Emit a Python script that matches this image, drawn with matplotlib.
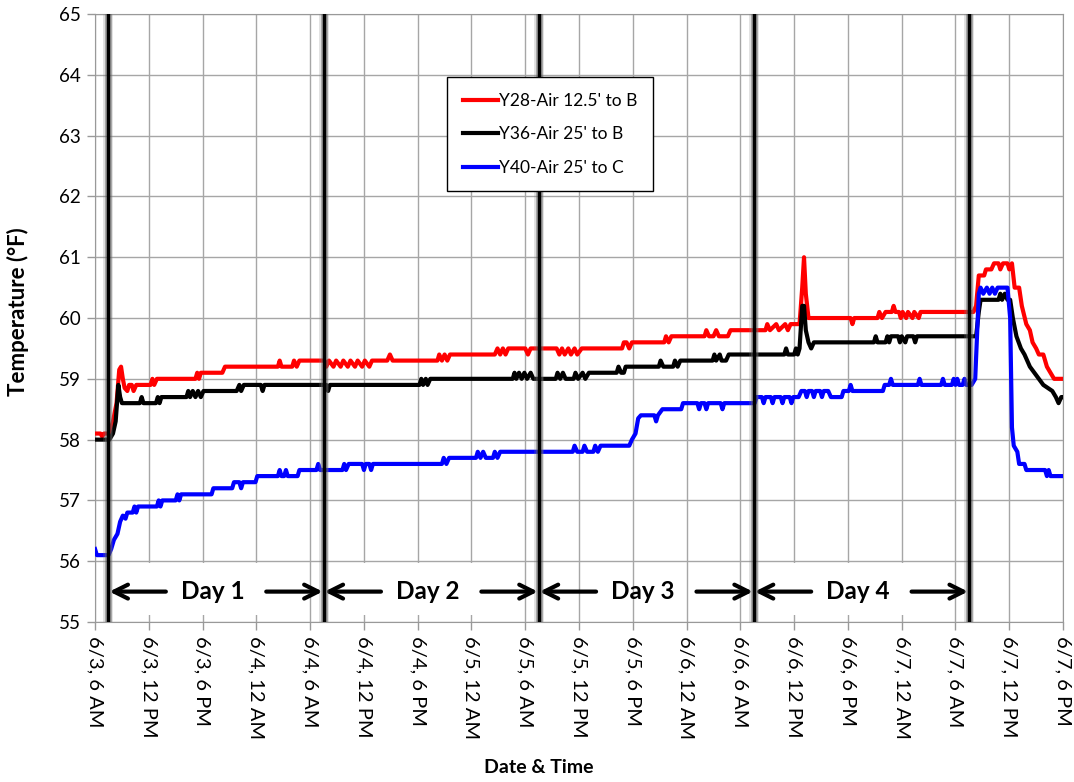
import numpy as np
import matplotlib.pyplot as plt
from matplotlib.patches import Rectangle

plt.rcParams['font.family'] = ['Lato', 'DejaVu Sans']

# hours after 6/3 6 AM
red_t = [0, 0.6, 0.8, 1.0, 1.6, 2.0, 2.4, 2.7, 2.9, 3.1, 3.3, 3.6, 3.8, 4.1, 4.3, 4.6, 6.2, 6.4, 6.6, 6.9,
         11.2, 11.4, 11.6, 11.8, 14.2, 14.5, 20.4, 20.6, 20.8, 22.0, 22.2, 22.5, 22.8, 25.6, 25.8, 26.1,
         26.6, 26.9, 27.4, 27.7, 28.2, 28.5, 29.0, 29.3, 29.8, 30.1, 30.6, 30.9, 32.6, 32.9, 33.2, 38.2,
         38.4, 38.7, 39.0, 39.3, 39.6, 44.6, 44.9, 45.2, 45.5, 45.8, 46.1, 48.0, 48.3, 48.6, 51.5, 51.8,
         52.1, 52.4, 52.8, 53.1, 53.5, 53.8, 54.3, 58.8, 59.0, 59.3, 59.6, 59.9, 63.5, 63.7, 64.0, 64.3,
         68.0, 68.2, 68.5, 69.0, 69.3, 69.6, 70.6, 70.9, 74.8, 75.0, 75.3, 76.0, 76.3, 77.0, 77.3, 77.6,
         78.6, 78.9, 79.1, 79.3, 79.6, 84.3, 84.5, 84.7, 87.3, 87.5, 87.8, 88.2, 88.9, 89.1, 89.3, 89.7,
         89.9, 90.1, 90.5, 90.7, 91.2, 91.4, 91.9, 92.1, 98.0, 98.3, 98.6, 99.2, 99.4, 100.0, 100.3,
         100.8, 101.0, 101.3, 101.8, 102.0, 102.3, 102.6, 103.1, 103.4, 103.9, 104.3, 104.6, 105.0,
         105.3, 105.8, 106.2, 106.6, 107.0, 108.0]
red_v = [58.1, 58.1, 58.05, 58.1, 58.1, 58.3, 58.6, 59.15, 59.2, 59.0, 58.85, 58.8, 58.9, 58.9, 58.8, 58.9,
         58.9, 59.0, 58.9, 59.0, 59.0, 59.1, 59.0, 59.1, 59.1, 59.2, 59.2, 59.3, 59.2, 59.2, 59.3, 59.2,
         59.3, 59.3, 59.2, 59.3, 59.2, 59.3, 59.2, 59.3, 59.2, 59.3, 59.2, 59.3, 59.2, 59.3, 59.2, 59.3,
         59.3, 59.4, 59.3, 59.3, 59.4, 59.3, 59.4, 59.3, 59.4, 59.4, 59.5, 59.4, 59.5, 59.4, 59.5, 59.5,
         59.4, 59.5, 59.5, 59.4, 59.5, 59.4, 59.5, 59.4, 59.5, 59.4, 59.5, 59.5, 59.6, 59.6, 59.5, 59.6,
         59.6, 59.7, 59.6, 59.7, 59.7, 59.8, 59.7, 59.7, 59.8, 59.7, 59.7, 59.8, 59.8, 59.9, 59.8, 59.9,
         59.8, 59.9, 59.8, 59.9, 59.9, 60.5, 61.0, 60.4, 60.0, 60.0, 59.9, 60.0, 60.0, 60.1, 60.0, 60.1,
         60.1, 60.2, 60.1, 60.1, 60.0, 60.1, 60.0, 60.1, 60.0, 60.1, 60.0, 60.1, 60.1, 60.2, 60.7, 60.7,
         60.8, 60.8, 60.9, 60.9, 60.8, 60.9, 60.9, 60.8, 60.9, 60.5, 60.5, 60.2, 59.9, 59.8, 59.6, 59.5,
         59.4, 59.4, 59.2, 59.1, 59.0, 59.0]

black_t = [0, 1.6, 2.0, 2.3, 2.6, 2.8, 3.0, 5.0, 5.2, 5.4, 6.8, 7.0, 7.2, 7.4, 10.2, 10.4, 10.6, 10.9, 11.2,
           11.5, 11.8, 12.1, 15.8, 16.1, 16.3, 16.6, 18.5, 18.7, 18.9, 25.8, 26.0, 26.2, 36.2, 36.4, 36.6,
           36.9, 37.1, 37.4, 46.6, 46.8, 47.0, 47.3, 47.6, 47.9, 48.2, 48.6, 48.9, 51.4, 51.6, 51.9, 52.2,
           52.5, 53.4, 53.6, 53.9, 54.4, 54.7, 55.1, 58.2, 58.4, 58.7, 59.0, 59.2, 62.9, 63.1, 63.4, 64.5,
           64.7, 65.0, 65.3, 68.9, 69.1, 69.3, 69.7, 69.9, 70.4, 70.7, 76.9, 77.1, 77.3, 78.0, 78.2, 78.4,
           78.6, 78.9, 79.1, 79.3, 79.6, 79.9, 80.2, 86.9, 87.1, 87.3, 88.2, 88.4, 88.6, 88.8, 89.6, 89.8,
           90.0, 90.4, 90.6, 91.3, 91.5, 91.7, 98.3, 98.6, 98.8, 100.8, 101.0, 101.2, 101.5, 101.8, 102.1,
           102.4, 102.8, 103.3, 103.7, 104.3, 104.8, 105.3, 105.8, 106.3, 106.8, 107.2, 107.5, 107.8, 108.0]
black_v = [58.0, 58.0, 58.1, 58.3, 58.9, 58.7, 58.6, 58.6, 58.7, 58.6, 58.6, 58.7, 58.6, 58.7, 58.7, 58.8,
           58.7, 58.8, 58.7, 58.8, 58.7, 58.8, 58.8, 58.9, 58.8, 58.9, 58.9, 58.8, 58.9, 58.9, 58.8, 58.9,
           58.9, 59.0, 58.9, 59.0, 58.9, 59.0, 59.0, 59.1, 59.0, 59.1, 59.0, 59.1, 59.0, 59.1, 59.0, 59.0,
           59.1, 59.0, 59.1, 59.0, 59.0, 59.1, 59.0, 59.1, 59.0, 59.1, 59.1, 59.2, 59.1, 59.1, 59.2, 59.2,
           59.3, 59.2, 59.2, 59.3, 59.2, 59.3, 59.3, 59.4, 59.3, 59.4, 59.3, 59.3, 59.4, 59.4, 59.5, 59.4,
           59.4, 59.5, 59.4, 59.5, 60.2, 60.2, 59.8, 59.6, 59.5, 59.6, 59.6, 59.7, 59.6, 59.6, 59.7, 59.6,
           59.7, 59.7, 59.6, 59.7, 59.6, 59.7, 59.7, 59.6, 59.7, 59.7, 60.1, 60.3, 60.3, 60.4, 60.3, 60.4,
           60.3, 60.3, 60.0, 59.7, 59.5, 59.4, 59.2, 59.1, 59.0, 58.9, 58.85, 58.8, 58.7, 58.6, 58.7, 58.7]

blue_t = [0, 0.2, 1.5, 1.8, 2.1, 2.5, 2.8, 3.1, 3.4, 3.6, 4.2, 4.4, 4.6, 4.8, 6.9, 7.1, 7.3, 7.5, 9.0, 9.2,
          9.4, 9.6, 13.0, 13.2, 15.3, 15.5, 16.1, 16.3, 16.5, 17.9, 18.1, 20.4, 20.6, 20.8, 21.1, 21.3, 21.5,
          22.6, 22.8, 24.7, 24.9, 25.1, 27.6, 27.8, 28.0, 28.3, 29.8, 30.0, 30.2, 30.6, 30.8, 31.0, 38.7,
          38.9, 39.2, 39.5, 42.5, 42.7, 43.0, 43.3, 43.6, 44.4, 44.6, 44.9, 45.2, 53.3, 53.5, 53.8, 54.4,
          54.6, 54.9, 55.6, 55.8, 56.1, 56.4, 59.6, 59.9, 60.3, 60.6, 60.9, 62.4, 62.6, 62.8, 63.3, 65.4,
          65.6, 67.2, 67.4, 67.6, 68.0, 68.2, 68.4, 69.8, 70.0, 70.2, 73.6, 73.8, 74.4, 74.6, 74.8, 75.4,
          75.6, 75.8, 76.5, 76.7, 76.9, 77.5, 77.7, 77.9, 78.5, 78.8, 79.2, 79.4, 79.6, 80.0, 80.2, 80.4,
          80.9, 81.1, 81.3, 81.8, 82.1, 83.3, 83.5, 84.1, 84.3, 84.5, 87.9, 88.1, 88.6, 88.8, 89.0, 91.8,
          92.0, 92.2, 94.4, 94.6, 94.8, 95.6, 95.8, 96.0, 96.2, 96.4, 96.8, 97.0, 97.2, 97.8, 98.2, 98.6,
          98.8, 99.1, 99.5, 99.8, 100.1, 100.4, 100.7, 101.8, 102.1, 102.3, 102.5, 102.9, 103.1, 103.7,
          103.9, 106.0, 106.2, 106.4, 106.6, 108.0]
blue_v = [56.2, 56.1, 56.1, 56.2, 56.35, 56.45, 56.65, 56.75, 56.7, 56.8, 56.8, 56.9, 56.8, 56.9, 56.9, 57.0,
          56.9, 57.0, 57.0, 57.1, 57.0, 57.1, 57.1, 57.2, 57.2, 57.3, 57.3, 57.2, 57.3, 57.3, 57.4, 57.4,
          57.5, 57.4, 57.4, 57.5, 57.4, 57.4, 57.5, 57.5, 57.6, 57.5, 57.5, 57.6, 57.5, 57.6, 57.6, 57.5,
          57.6, 57.6, 57.5, 57.6, 57.6, 57.7, 57.6, 57.7, 57.7, 57.8, 57.7, 57.8, 57.7, 57.7, 57.8, 57.7,
          57.8, 57.8, 57.9, 57.8, 57.8, 57.9, 57.8, 57.8, 57.9, 57.8, 57.9, 57.9, 58.0, 58.1, 58.35, 58.4,
          58.4, 58.3, 58.4, 58.5, 58.5, 58.6, 58.6, 58.5, 58.6, 58.6, 58.5, 58.6, 58.6, 58.5, 58.6, 58.6,
          58.7, 58.7, 58.6, 58.7, 58.7, 58.6, 58.7, 58.7, 58.6, 58.7, 58.7, 58.6, 58.7, 58.7, 58.8, 58.8,
          58.7, 58.8, 58.8, 58.7, 58.8, 58.8, 58.7, 58.8, 58.8, 58.7, 58.7, 58.8, 58.8, 58.9, 58.8, 58.8,
          58.9, 58.9, 59.0, 58.9, 58.9, 59.0, 58.9, 58.9, 59.0, 58.9, 58.9, 59.0, 58.9, 59.0, 58.9, 58.9,
          59.0, 58.9, 58.9, 59.0, 60.4, 60.5, 60.4, 60.5, 60.4, 60.5, 60.4, 60.5, 60.5, 60.0, 58.2, 57.9,
          57.8, 57.6, 57.6, 57.5, 57.5, 57.4, 57.5, 57.4, 57.4]

series = [("Y28-Air 12.5' to B", red_t, red_v, '#ff0000'),
          ("Y36-Air 25' to B", black_t, black_v, '#000000'),
          ("Y40-Air 25' to C", blue_t, blue_v, '#0000ff')]

tick_hours = [0, 6, 12, 18, 24, 30, 36, 42, 48, 54, 60, 66, 72, 78, 84, 90, 96, 102, 108]
tick_labels = ['6/3, 6 AM', '6/3, 12 PM', '6/3, 6 PM', '6/4, 12 AM', '6/4, 6 AM', '6/4, 12 PM',
               '6/4, 6 PM', '6/5, 12 AM', '6/5, 6 AM', '6/5, 12 PM', '6/5, 6 PM', '6/6, 12 AM',
               '6/6, 6 AM', '6/6, 12 PM', '6/6, 6 PM', '6/7, 12 AM', '6/7, 6 AM', '6/7, 12 PM', '6/7, 6 PM']

day_marks = [1.5, 25.5, 49.5, 73.5, 97.5]
day_names = ['Day 1', 'Day 2', 'Day 3', 'Day 4']
day_box = [True, True, False, True]

fig = plt.figure(figsize=(10.74, 7.82), dpi=100)
ax = fig.add_axes([0.0885, 0.2046, 0.9013, 0.7774])

for name, t, v, c in series:
    ax.plot(t, v, color=c, lw=3, label=name, zorder=3, solid_joinstyle='round')

ax.set_xlim(0, 108)
ax.set_ylim(55, 65)
ax.set_xticks(tick_hours)
ax.set_xticklabels(tick_labels, rotation=-90, va='top', ha='center', fontsize=14.5)
ax.set_yticks(range(55, 66))
ax.tick_params(axis='y', labelsize=13.5)
ax.tick_params(direction='out', length=6, color='#999999', width=1, pad=4)
ax.grid(True, color='#a6a6a6', lw=1, zorder=0)
ax.set_axisbelow(True)
for s in ax.spines.values():
    s.set_color('#999999')

# day spans with arrows
for i, name in enumerate(day_names):
    a, b = day_marks[i], day_marks[i + 1]
    mid = (a + b) / 2
    if day_box[i]:
        ax.add_patch(Rectangle((a + 0.3, 55.12), b - a - 2.2, 0.85, facecolor='white',
                               edgecolor='none', zorder=1))
    ax.annotate('', xy=(a + 0.1, 55.5), xytext=(mid - 5.6, 55.5),
                arrowprops=dict(arrowstyle='->', lw=3, color='black', mutation_scale=25,
                                shrinkA=0, shrinkB=0), zorder=5)
    ax.annotate('', xy=(b - 0.1, 55.5), xytext=(mid + 5.6, 55.5),
                arrowprops=dict(arrowstyle='->', lw=3, color='black', mutation_scale=25,
                                shrinkA=0, shrinkB=0), zorder=5)
    ax.text(mid - 0.4, 55.5, name, ha='center', va='center', fontsize=17.5, fontweight='bold', zorder=5)

for d in day_marks:
    ax.axvline(d, color='#808080', lw=7, alpha=0.25, zorder=6)
    ax.axvline(d, color='#606060', lw=5, alpha=0.45, zorder=6)
    ax.axvline(d, color='black', lw=2.5, zorder=7)

leg = ax.legend(loc='upper left', bbox_to_anchor=(0.364, 0.896), fontsize=12.5, fancybox=False,
                framealpha=1, edgecolor='black', handlelength=2.0, handletextpad=0.1,
                labelspacing=1.0, borderpad=0.9, borderaxespad=0)
leg.get_frame().set_linewidth(1)
leg.set_zorder(8)

fig.text(0.017, 0.601, 'Temperature (°F)', rotation=90, ha='center', va='center',
         fontsize=16, fontweight='bold')
fig.text(0.502, 0.018, 'Date & Time', ha='center', va='center', fontsize=14, fontweight='bold')

fig.savefig('out.png', dpi=100)
